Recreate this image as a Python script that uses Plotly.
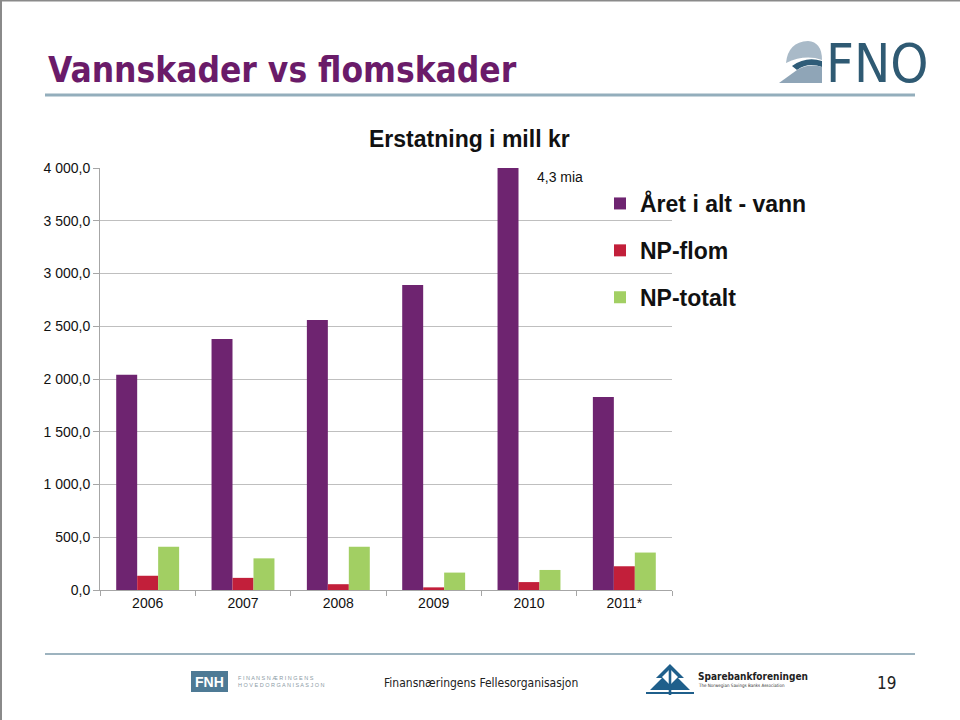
import plotly.graph_objects as go

years = ["2006", "2007", "2008", "2009", "2010", "2011*"]
aret_vann = [2040, 2380, 2560, 2890, 4300, 1830]
np_flom = [135, 115, 55, 25, 75, 225]
np_totalt = [410, 300, 410, 165, 190, 355]
y_ticks = [0, 500, 1000, 1500, 2000, 2500, 3000, 3500, 4000]
y_ticktext = ["0,0", "500,0", "1 000,0", "1 500,0", "2 000,0", "2 500,0", "3 000,0", "3 500,0", "4 000,0"]

W, H = 960, 720
L, R, T, B = 100, 288, 168, 130
PW, PH = W - L - R, H - T - B


def px(x):
    return (x - L) / PW


def py(y):
    return (H - B - y) / PH


purple = "#6E2470"
red = "#C21F3A"
green = "#A2CF63"
TXT = "Liberation Sans, Arial, sans-serif"
NARROW = "Liberation Sans Narrow, Arial Narrow, DejaVu Sans Condensed, Liberation Sans, sans-serif"

fig = go.Figure()
fig.add_trace(go.Bar(name="<b>Året i alt - vann</b>", x=years, y=aret_vann, marker_color=purple,
                     marker_line_width=0, legendgroup="a"))
fig.add_trace(go.Bar(name="<b>NP-flom</b>", x=years, y=np_flom, marker_color=red,
                     marker_line_width=0, legendgroup="b"))
fig.add_trace(go.Bar(name="<b>NP-totalt</b>", x=years, y=np_totalt, marker_color=green,
                     marker_line_width=0, legendgroup="c"))

shapes = []
# slide border
shapes.append(dict(type="line", xref="paper", yref="paper", x0=px(1), x1=px(960), y0=py(0.5), y1=py(0.5),
                   line=dict(color="#8a8a8a", width=2), layer="above"))
shapes.append(dict(type="line", xref="paper", yref="paper", x0=px(1), x1=px(1), y0=py(0), y1=py(720),
                   line=dict(color="#8a8a8a", width=2), layer="above"))
# header and footer rules
shapes.append(dict(type="line", xref="paper", yref="paper", x0=px(45), x1=px(915), y0=py(95), y1=py(95),
                   line=dict(color="#93AEBC", width=3)))
shapes.append(dict(type="line", xref="paper", yref="paper", x0=px(45), x1=px(915), y0=py(654), y1=py(654),
                   line=dict(color="#9DB3BF", width=2)))


def pt(a, b):
    return f"{px(a):.5f},{py(b):.5f}"


def poly(points):
    s = "M" + pt(*points[0])
    for p in points[1:]:
        s += " L" + pt(*p)
    return s + " Z"


def qpath(start, segs):
    s = "M" + pt(*start)
    for kind, pts in segs:
        if kind == "Q":
            s += " Q" + pt(*pts[0]) + " " + pt(*pts[1])
        else:
            s += " L" + pt(*pts[0])
    return s + " Z"


# FNO logo (decorative)
shapes.append(dict(type="path", xref="paper", yref="paper",
                   path=qpath((786, 63), [("Q", [(788, 42), (808, 41)]), ("Q", [(822, 42), (822, 60)]),
                                          ("Q", [(805, 54), (786, 63)])]),
                   fillcolor="#A9BAC8", line=dict(width=0)))
shapes.append(dict(type="path", xref="paper", yref="paper",
                   path=qpath((792, 66), [("Q", [(806, 56), (822, 61)]), ("L", [(822, 67)]),
                                          ("Q", [(808, 62), (797, 70)])]),
                   fillcolor="#2F5C78", line=dict(width=0)))
shapes.append(dict(type="path", xref="paper", yref="paper",
                   path=qpath((779, 83), [("L", [(797, 70)]), ("Q", [(809, 63), (822, 67)]),
                                          ("L", [(822, 83)])]),
                   fillcolor="#8FA5B7", line=dict(width=0)))
# FNH logo box
shapes.append(dict(type="rect", xref="paper", yref="paper", x0=px(191), x1=px(228), y0=py(692), y1=py(671),
                   fillcolor="#4E7A95", line=dict(width=0)))
# Sparebankforeningen symbol
shapes.append(dict(type="path", xref="paper", yref="paper",
                   path=poly([(670, 664), (684, 678), (678, 678), (690, 690), (650, 690), (662, 678), (656, 678)]),
                   fillcolor="#1F5F8B", line=dict(width=0)))
shapes.append(dict(type="path", xref="paper", yref="paper",
                   path=poly([(670, 669), (678, 677), (670, 685), (662, 677)]),
                   fillcolor="white", line=dict(width=0)))
shapes.append(dict(type="rect", xref="paper", yref="paper", x0=px(668.7), x1=px(671.3), y0=py(695), y1=py(668),
                   fillcolor="#1F5F8B", line=dict(width=0)))
shapes.append(dict(type="line", xref="paper", yref="paper", x0=px(646), x1=px(694), y0=py(693), y1=py(693),
                   line=dict(color="#1F5F8B", width=2)))

annotations = [
    dict(text="<b>Vannskader vs flomskader</b>", xref="paper", yref="paper", x=px(46), y=py(70),
         xanchor="left", yanchor="middle", showarrow=False,
         font=dict(family=NARROW, size=35, color="#6A1B69")),
    dict(text="FNO", xref="paper", yref="paper", x=px(824), y=py(63), xanchor="left", yanchor="middle",
         showarrow=False, font=dict(family=NARROW, size=54, color="#2F5A73")),
    dict(text="<b>Erstatning i mill kr</b>", xref="paper", yref="paper", x=px(469), y=py(139),
         xanchor="center", yanchor="middle", showarrow=False,
         font=dict(family=TXT, size=23, color="#111111")),
    dict(text="4,3 mia", xref="paper", yref="paper", x=px(535), y=py(177), xanchor="left", yanchor="middle",
         showarrow=False, font=dict(family=TXT, size=14, color="#111111")),
    dict(text="<b>FNH</b>", xref="paper", yref="paper", x=px(209.5), y=py(682), xanchor="center",
         yanchor="middle", showarrow=False, font=dict(family=TXT, size=14, color="white")),
    dict(text="F I N A N S N Æ R I N G E N S<br>H O V E D O R G A N I S A S J O N", xref="paper", yref="paper",
         x=px(236), y=py(681.5), xanchor="left", yanchor="middle", showarrow=False, align="left",
         font=dict(family=TXT, size=5.5, color="#8C9BA5")),
    dict(text="Finansnæringens Fellesorganisasjon", xref="paper", yref="paper", x=px(481), y=py(683),
         xanchor="center", yanchor="middle", showarrow=False,
         font=dict(family=NARROW, size=12, color="#222222")),
    dict(text="<b>Sparebankforeningen</b>", xref="paper", yref="paper", x=px(696), y=py(676),
         xanchor="left", yanchor="middle", showarrow=False,
         font=dict(family=NARROW, size=10, color="#222222")),
    dict(text="The Norwegian Savings Banks Association", xref="paper", yref="paper", x=px(696), y=py(685),
         xanchor="left", yanchor="middle", showarrow=False,
         font=dict(family=NARROW, size=4.5, color="#333333")),
    dict(text="19", xref="paper", yref="paper", x=px(886), y=py(683), xanchor="center", yanchor="middle",
         showarrow=False, font=dict(family=NARROW, size=17, color="#222222")),
]

fig.update_layout(
    width=W, height=H,
    margin=dict(l=L, r=R, t=T, b=B, autoexpand=False),
    paper_bgcolor="white", plot_bgcolor="white",
    barmode="group", bargap=0.34, bargroupgap=0,
    font=dict(family=TXT, size=14, color="#111111"),
    showlegend=True,
    legend=dict(x=px(600), y=py(182), xanchor="left", yanchor="top", bgcolor="rgba(0,0,0,0)",
                font=dict(family=TXT, size=23, color="#111111"), tracegroupgap=14,
                itemwidth=30, traceorder="grouped"),
    shapes=shapes,
    annotations=annotations,
)
fig.update_yaxes(range=[0, 4000], tickvals=y_ticks, ticktext=y_ticktext, showgrid=True,
                 gridcolor="#BFBFBF", gridwidth=1, showline=True, linecolor="#A6A6A6", linewidth=1,
                 ticks="outside", ticklen=6, tickcolor="#A6A6A6", zeroline=False,
                 tickfont=dict(size=14, color="#111111"))
fig.update_xaxes(type="category", showline=True, linecolor="#A6A6A6", linewidth=1, ticks="outside",
                 tickson="boundaries", ticklen=5, tickcolor="#A6A6A6", showgrid=False,
                 tickfont=dict(size=14, color="#111111"))

fig.write_html("out.html")
